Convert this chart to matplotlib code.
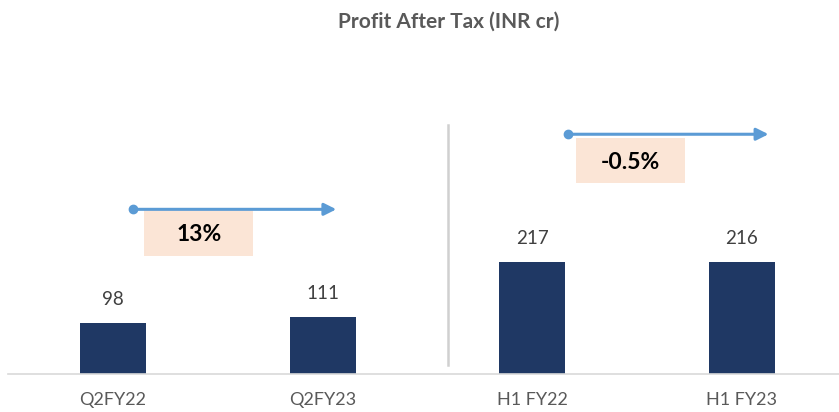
import matplotlib.pyplot as plt
import numpy as np

plt.rcParams['font.family'] = ['Lato', 'DejaVu Sans']

categories = ['Q2FY22', 'Q2FY23', 'H1 FY22', 'H1 FY23']
pat = [98, 111, 217, 216]
growth = ['13%', '-0.5%']

bar_color = '#1F3864'
arrow_color = '#5B9BD5'
box_color = '#FBE5D6'

fig = plt.figure(figsize=(8.39, 4.12), dpi=100)
ax = fig.add_axes([8 / 839, 38 / 412, 831 / 839, 334 / 412])

x = np.arange(len(categories))
bars = ax.bar(x, pat, width=0.315, color=bar_color)
for xi, v in zip(x, pat):
    ax.text(xi, v + 45, str(v), ha='center', va='center', fontsize=13.5, color='#404040')

ax.set_xlim(-0.5, 3.463)
ax.set_ylim(0, 645)
ax.set_xticks(x)
ax.set_xticklabels(categories, fontsize=13, color='#595959')
ax.tick_params(axis='x', length=0, pad=13)
ax.set_yticks([])
for s in ['top', 'right', 'left']:
    ax.spines[s].set_visible(False)
ax.spines['bottom'].set_color('#D9D9D9')
ax.spines['bottom'].set_linewidth(1.2)

# divider between quarter and half-year
ax.plot([1.597, 1.597], [17, 481], color='#D0D0D0', lw=1.8)

# growth arrows and boxes
arrows = [(0.098, 1.079, 318), (2.17, 3.14, 463)]
boxes = [(0.15, 0.669, 228, 317), (2.21, 2.73, 369, 456)]
for (x0, x1, y), (bx0, bx1, by0, by1), g in zip(arrows, boxes, growth):
    ax.add_patch(plt.Rectangle((bx0, by0), bx1 - bx0, by1 - by0, color=box_color, lw=0, zorder=1))
    ax.annotate('', xy=(x1, y), xytext=(x0, y),
                arrowprops=dict(arrowstyle='-|>', color=arrow_color, lw=2.2, mutation_scale=18), zorder=3)
    ax.plot(x0, y, 'o', color=arrow_color, ms=6, zorder=3)
    ax.text((bx0 + bx1) / 2, (by0 + by1) / 2 - 4, g, ha='center', va='center',
            fontsize=16.5, fontweight='bold', color='black', zorder=4)

fig.text(0.535, 1 - 22 / 412, 'Profit After Tax (INR cr)', ha='center', va='center',
         fontsize=15, fontweight='bold', color='#595959')

fig.savefig('out.png', dpi=100)
